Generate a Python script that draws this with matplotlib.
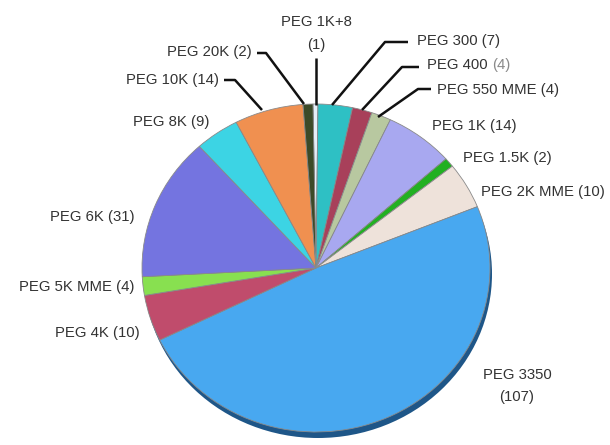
import matplotlib
matplotlib.use("Agg")
import matplotlib.pyplot as plt
from matplotlib.patches import Ellipse

labels = ["PEG 1K+8", "PEG 300", "PEG 400", "PEG 550 MME", "PEG 1K", "PEG 1.5K",
          "PEG 2K MME", "PEG 3350", "PEG 4K", "PEG 5K MME", "PEG 6K", "PEG 8K",
          "PEG 10K", "PEG 20K"]
counts = [1, 7, 4, 4, 14, 2, 10, 107, 10, 4, 31, 9, 14, 2]
colors = ["#E6EEF8", "#2EC0C4", "#A8405A", "#B8C8A0", "#A8A8F0", "#22B022",
          "#EEE2DA", "#48A8F0", "#C04C6C", "#88E050", "#7474E0", "#3CD4E4",
          "#F09050", "#3C4A28"]

W, H = 610, 445
CX, CY = 316, 268
RX, RY = 174, 164
K = RX / RY

def py(y):
    return (H - y) * K

plt.rcParams['font.family'] = ['Liberation Sans', 'DejaVu Sans']
fig = plt.figure(figsize=(W / 100, H / 100), dpi=100)
ax = fig.add_axes([0, 0, 1, 1])
ax.set_xlim(0, W)
ax.set_ylim(0, H * K)
ax.axis('off')

# shadow
ax.add_patch(Ellipse((CX + 2, py(CY + 6)), 2 * RX, 2 * RX, facecolor="#1E5688",
                     edgecolor="none", zorder=1))

ax.pie(counts, colors=colors, startangle=91, counterclock=False,
       center=(CX, py(CY)), radius=RX, frame=True,
       wedgeprops=dict(edgecolor="#8A8A8A", linewidth=0.6, zorder=2))
ax.set_xlim(0, W)
ax.set_ylim(0, H * K)
ax.set_aspect('auto')
ax.axis('off')

tc = "#333333"
fs = 10.7

def txt(x, y, s, ha, color=tc):
    ax.text(x, py(y), s, ha=ha, va='center', fontsize=fs, color=color, zorder=5)

def line(pts):
    ax.plot([p[0] for p in pts], [py(p[1]) for p in pts], color="#111111",
            lw=1.8, zorder=4, solid_capstyle='butt')

# top
ax.text(316, py(22), "PEG 1K+8", ha='center', va='center', fontsize=fs, color=tc)
ax.text(316, py(45), "(1)", ha='center', va='center', fontsize=fs, color=tc)
line([(316, 58), (316, 105)])

# left top
txt(252, 52, "PEG 20K (2)", 'right')
line([(257, 53), (266, 53), (304, 104)])
txt(219, 80, "PEG 10K (14)", 'right')
line([(224, 80), (235, 80), (262, 110)])
txt(209, 122, "PEG 8K (9)", 'right')
txt(134, 217, "PEG 6K (31)", 'right')
txt(134, 287, "PEG 5K MME (4)", 'right')
txt(140, 333, "PEG 4K (10)", 'right')

# right top
txt(417, 41, "PEG 300 (7)", 'left')
line([(408, 42), (385, 42), (332, 105)])
t = ax.text(427, py(65), "PEG 400 ", ha='left', va='center', fontsize=fs, color=tc, zorder=5)
ax.annotate("(4)", xycoords=t, xy=(1, 0.5), va='center', ha='left',
            fontsize=fs, color="#8A8A8A", zorder=5)
line([(419, 67), (402, 67), (362, 110)])
txt(437, 90, "PEG 550 MME (4)", 'left')
line([(431, 89), (418, 89), (378, 117)])

txt(432, 126, "PEG 1K (14)", 'left')
txt(463, 158, "PEG 1.5K (2)", 'left')
txt(481, 192, "PEG 2K MME (10)", 'left')

ax.text(517, py(375), "PEG 3350", ha='center', va='center', fontsize=fs, color=tc)
ax.text(517, py(397), "(107)", ha='center', va='center', fontsize=fs, color=tc)

fig.savefig("out.png", dpi=100, facecolor="white")
